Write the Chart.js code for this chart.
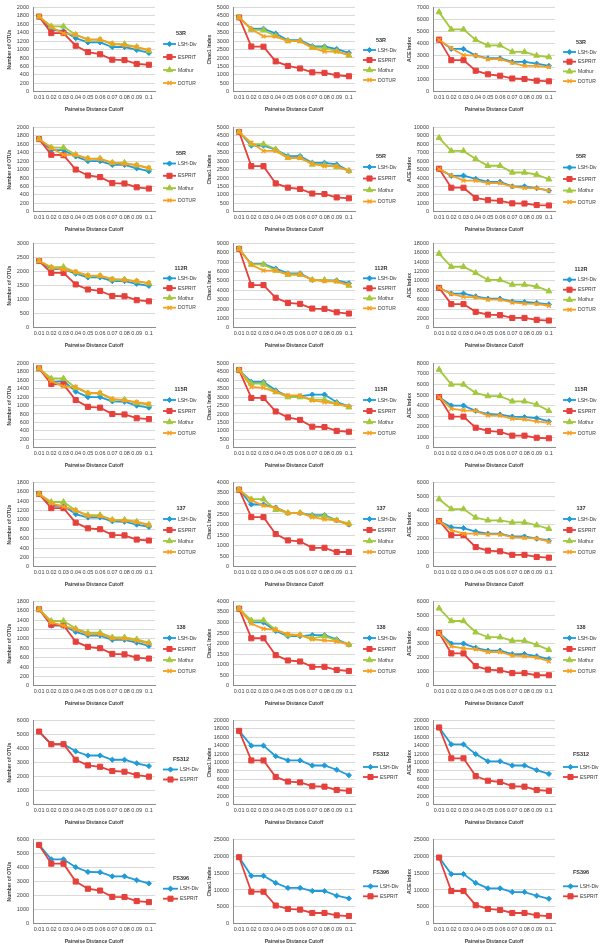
<!DOCTYPE html>
<html><head><meta charset="utf-8">
<script src="https://cdn.jsdelivr.net/npm/chart.js@4.4.1/dist/chart.umd.min.js"></script>
<style>
html,body{margin:0;padding:0;background:#fff;width:600px;height:951px;overflow:hidden;}
#wrap{position:relative;width:600px;height:951px;}
canvas{position:absolute;}
</style></head><body><div id="wrap"></div>
<script>
const cutoffs = ['0.01','0.02','0.03','0.04','0.05','0.06','0.07','0.08','0.09','0.1'];
const seriesNames = ['LSH-Div','ESPRIT','Mothur','DOTUR'];
const sampleNames = ['53R','55R','112R','115R','137','138','FS312','FS396'];
const yTitles = ['Number of OTUs','Chao1 Index','ACE Index'];

// each panel: [LSH-Div, ESPRIT, Mothur, DOTUR]
const otu_53R = [[1780,1460,1440,1270,1170,1170,1060,1060,990,920],[1780,1390,1390,1090,940,890,760,750,660,640],[1780,1550,1550,1350,1230,1230,1130,1130,1060,970],[1780,1530,1380,1350,1240,1240,1140,1100,1060,990]];
const chao_53R = [[4400,3720,3730,3450,3050,3050,2700,2680,2530,2300],[4400,2680,2670,1800,1530,1380,1150,1120,980,920],[4400,3680,3650,3300,3000,3000,2620,2600,2400,2150],[4400,3720,3280,3280,3000,3000,2600,2380,2380,2180]];
const ace_53R = [[4300,3550,3550,3000,2780,2780,2480,2480,2330,2150],[4320,2620,2620,1750,1450,1330,1100,1060,920,870],[6600,5170,5170,4300,3850,3850,3300,3300,3000,2870],[4300,3600,3030,3000,2700,2700,2400,2150,2150,2050]];

const otu_55R = [[1720,1460,1460,1310,1200,1200,1110,1110,1030,960],[1720,1350,1340,1000,860,820,680,670,580,550],[1720,1520,1520,1350,1260,1260,1160,1160,1100,1030],[1720,1510,1350,1350,1260,1250,1160,1130,1110,1040]];
const chao_55R = [[4720,3920,3920,3680,3300,3300,2900,2900,2800,2420],[4720,2700,2700,1680,1430,1350,1080,1050,850,800],[4720,4000,4000,3700,3200,3200,2800,2780,2650,2430],[4720,4080,3600,3600,3180,3180,2850,2700,2700,2420]];
const ace_55R = [[5050,4250,4280,3900,3550,3550,3000,3000,2800,2500],[5100,2850,2850,1650,1380,1300,1000,980,800,750],[8750,7200,7200,6250,5450,5450,4650,4650,4400,3850],[5050,4300,3700,3700,3400,3400,2980,2800,2800,2500]];

const otu_112R = [[2370,2080,2080,1920,1790,1790,1660,1660,1560,1490],[2370,1950,1950,1540,1360,1310,1130,1120,980,940],[2370,2140,2160,1970,1840,1840,1720,1720,1650,1580],[2380,2150,2070,1990,1860,1850,1730,1690,1660,1590]];
const chao_112R = [[8400,6800,6800,6300,5800,5800,5100,5050,5050,4750],[8400,4550,4550,3200,2650,2550,2050,2020,1650,1520],[8400,6750,6750,6100,5650,5650,5100,5100,4950,4500],[8400,6700,6100,6100,5700,5700,5100,4950,4950,4550]];
const ace_112R = [[8500,7300,7300,6700,6200,6200,5600,5500,5300,5000],[8500,5050,5050,3400,2800,2700,2100,2100,1700,1550],[15800,13000,13000,11700,10200,10200,9200,9200,8800,7800],[8500,7200,6600,6500,6000,6000,5400,5150,5100,4700]];

const otu_115R = [[1880,1550,1580,1330,1200,1200,1100,1090,1000,950],[1880,1510,1500,1130,970,950,800,790,700,680],[1880,1640,1640,1420,1290,1290,1140,1140,1060,1020],[1880,1580,1450,1440,1300,1300,1160,1120,1080,1040]];
const chao_115R = [[4600,3900,3900,3400,3050,3050,3150,3150,2700,2450],[4600,2950,2950,2150,1800,1650,1250,1230,1000,950],[4600,3800,3800,3300,3000,3000,2850,2850,2600,2400],[4600,3600,3550,3300,3100,3100,2800,2700,2600,2450]];
const ace_115R = [[4800,4000,4000,3500,3200,3150,2950,2900,2800,2500],[4800,2950,2950,1900,1600,1500,1150,1150,950,900],[7400,6000,6000,5200,4900,4900,4400,4400,4100,3500],[4800,3700,3550,3500,3050,3050,2750,2700,2500,2350]];

const otu_137 = [[1550,1300,1300,1120,1050,1050,970,960,900,850],[1550,1250,1250,940,820,800,680,670,580,560],[1550,1380,1380,1200,1100,1100,1000,1000,960,900],[1550,1350,1280,1200,1080,1080,1000,980,950,880]];
const chao_137 = [[3650,2950,2950,2800,2550,2550,2450,2450,2200,2000],[3650,2350,2350,1550,1250,1200,900,900,700,700],[3650,3200,3200,2700,2550,2550,2400,2400,2200,2050],[3650,3150,2900,2800,2550,2550,2350,2250,2200,2000]];
const ace_137 = [[3250,2800,2750,2500,2350,2350,2150,2150,2000,1850],[3250,2250,2250,1400,1150,1100,850,850,700,650],[4800,4100,4100,3500,3300,3300,3150,3150,2950,2700],[3250,2600,2350,2350,2300,2300,2100,2050,2000,1800]];

const otu_138 = [[1630,1280,1280,1150,1070,1070,980,980,920,850],[1630,1300,1290,940,830,800,680,670,600,580],[1630,1380,1380,1220,1130,1130,1030,1030,990,920],[1630,1350,1280,1200,1100,1100,1010,1000,960,900]];
const chao_138 = [[3650,3000,3000,2600,2350,2350,2400,2400,2200,1950],[3650,2250,2250,1450,1200,1150,900,900,750,700],[3650,3100,3100,2650,2400,2400,2250,2350,2150,1950],[3650,2950,2700,2650,2450,2400,2200,2150,2100,1950]];
const ace_138 = [[3750,3000,3000,2700,2500,2500,2250,2250,2100,1900],[3750,2300,2300,1400,1150,1100,900,900,750,750],[5500,4600,4600,3800,3450,3450,3200,3200,2900,2550],[3750,2800,2650,2600,2400,2400,2150,2100,2000,1750]];

const otu_FS312 = [[5200,4300,4300,3800,3500,3500,3200,3200,2950,2750],[5200,4300,4300,3200,2800,2700,2400,2350,2100,2000]];
const chao_FS312 = [[17500,14000,14000,11500,10500,10500,9300,9300,8300,7000],[17500,10500,10500,6600,5500,5300,4400,4300,3500,3300]];
const ace_FS312 = [[18300,14300,14300,12000,10300,10300,9300,9300,8200,7300],[18300,11000,11000,6800,5700,5400,4400,4300,3500,3300]];

const otu_FS396 = [[5600,4580,4580,4020,3680,3660,3370,3370,3100,2870],[5600,4270,4270,3000,2490,2360,1910,1900,1610,1540]];
const chao_FS396 = [[19700,14200,14200,12100,10600,10600,9700,9700,8300,7500],[19700,9500,9500,5400,4400,4200,3200,3200,2500,2300]];
const ace_FS396 = [[19600,14700,14700,12100,10500,10500,9400,9400,8300,7400],[19600,9700,9700,5500,4400,4100,3200,3200,2500,2300]];

const otuData = [otu_53R, otu_55R, otu_112R, otu_115R, otu_137, otu_138, otu_FS312, otu_FS396];
const chaoData = [chao_53R, chao_55R, chao_112R, chao_115R, chao_137, chao_138, chao_FS312, chao_FS396];
const aceData = [ace_53R, ace_55R, ace_112R, ace_115R, ace_137, ace_138, ace_FS312, ace_FS396];

const otuMax = [2000,2000,3000,2000,1800,1800,6000,6000];
const otuStep = [200,200,500,200,200,200,1000,1000];
const chaoMax = [5000,5000,9000,5000,4000,4000,20000,25000];
const chaoStep = [500,500,1000,500,500,500,2000,5000];
const aceMax = [7000,10000,18000,8000,6000,6000,20000,25000];
const aceStep = [1000,1000,2000,1000,1000,1000,2000,5000];

// ---- styling / layout (not data) ----
const FONT = "'Liberation Sans',Arial,sans-serif";
const colors = ['#1f9bd7','#e5403b','#a3c83d','#f7a01f'];
const pStyles = ['rectRot','rect','triangle','crossRot'];
const pRadius = [2.6,3.6,3.4,2.8];
const rowTop = [0,120,236,356,475,594,713,832];
const legendPos = [ // [titleY, firstEntryY, gap] per row, per column
  [[33,44,13],[40,50,10],[42,52,9.7]],
  [[33,43.5,12.3],[36,47,11.5],[36,47.5,11.5]],
  [[32,42.3,9.8],[32,42.3,10],[33.3,43.7,10]],
  [[33,44,11],[33,44,11],[33,44,11]],
  [[33,44,11],[33,44,11],[33,44,11]],
  [[33,44,11],[33,44,11],[33,44,11]],
  [[46,56.5,10],[41,54,10],[41,54,10]],
  [[46.7,56.7,10],[40.7,54.3,10],[40.7,54.3,10]]
];

const legendPlugin = {
  id: 'excelLegend',
  afterDraw(chart, args, o) {
    const ctx = chart.ctx;
    ctx.save();
    const [ty, fy, gap] = o.pos;
    const n = chart.data.datasets.length;
    const lineLen = n > 2 ? 13 : 15;
    const x0 = chart.chartArea.right + 8;
    ctx.textBaseline = 'middle';
    ctx.textAlign = 'center';
    ctx.fillStyle = '#333';
    ctx.font = 'bold 5.5px ' + FONT;
    ctx.fillText(o.title, x0 + 18, ty);
    chart.data.datasets.forEach((ds, i) => {
      const y = fy + gap * i;
      ctx.strokeStyle = ds.borderColor;
      ctx.lineWidth = 1.8;
      ctx.beginPath(); ctx.moveTo(x0, y); ctx.lineTo(x0 + lineLen, y); ctx.stroke();
      ctx.fillStyle = ds.backgroundColor;
      ctx.lineWidth = ds.pointBorderWidth;
      Chart.helpers.drawPoint(ctx, {pointStyle: ds.pointStyle, radius: ds.pointRadius, rotation: 0, borderWidth: ds.pointBorderWidth}, x0 + lineLen / 2, y);
      ctx.fillStyle = '#333';
      ctx.textAlign = 'left';
      ctx.font = '5px ' + FONT;
      ctx.fillText(ds.label, x0 + lineLen + 2, y + 0.3);
    });
    ctx.restore();
  }
};

const wrap = document.getElementById('wrap');
function makePanel(row, col, data, max, step) {
  const c = document.createElement('canvas');
  c.width = 200; c.height = 119;
  c.style.left = (col * 200) + 'px';
  c.style.top = rowTop[row] + 'px';
  wrap.appendChild(c);
  const datasets = data.map((vals, i) => ({
    label: seriesNames[i], data: vals,
    borderColor: colors[i], backgroundColor: colors[i],
    pointBackgroundColor: colors[i], pointBorderColor: colors[i],
    borderWidth: 1.8, pointStyle: pStyles[i], pointRadius: pRadius[i],
    pointBorderWidth: i === 3 ? 1.4 : 1, tension: 0, fill: false,
    order: 3 - i
  }));
  new Chart(c, {
    type: 'line',
    data: { labels: cutoffs, datasets },
    options: {
      responsive: false, animation: false, devicePixelRatio: 1,
      events: [],
      layout: { padding: { left: 7, right: 45, top: 6, bottom: 6.6 } },
      plugins: { legend: { display: false }, tooltip: { enabled: false },
        excelLegend: { title: sampleNames[row], pos: legendPos[row][col] } },
      scales: {
        x: {
          offset: true,
          grid: { display: false, drawTicks: false },
          border: { display: true, color: '#8c8c8c', width: 1 },
          ticks: { font: { family: FONT, size: 5.5 }, color: '#404040', padding: 2.5, maxRotation: 0, minRotation: 0, autoSkip: false },
          title: { display: true, text: 'Pairwise Distance Cutoff', color: '#404040', font: { family: FONT, size: 5, weight: 'bold' }, padding: { top: 3, bottom: 0 } }
        },
        y: {
          min: 0, max: max,
          ticks: { stepSize: step, autoSkip: false, font: { family: FONT, size: 5.5 }, color: '#404040', padding: 4, callback: v => String(v) },
          grid: { color: '#d9d9d9', lineWidth: 1, drawTicks: false },
          border: { display: true, color: '#8c8c8c', width: 1 },
          title: { display: true, text: yTitles[col], color: '#404040', font: { family: FONT, size: 5, weight: 'bold' }, padding: 0 },
          afterFit(s) { s.width = 26; }
        }
      }
    },
    plugins: [legendPlugin]
  });
}

for (let r = 0; r < 8; r++) {
  makePanel(r, 0, otuData[r], otuMax[r], otuStep[r]);
  makePanel(r, 1, chaoData[r], chaoMax[r], chaoStep[r]);
  makePanel(r, 2, aceData[r], aceMax[r], aceStep[r]);
}
</script></body></html>
